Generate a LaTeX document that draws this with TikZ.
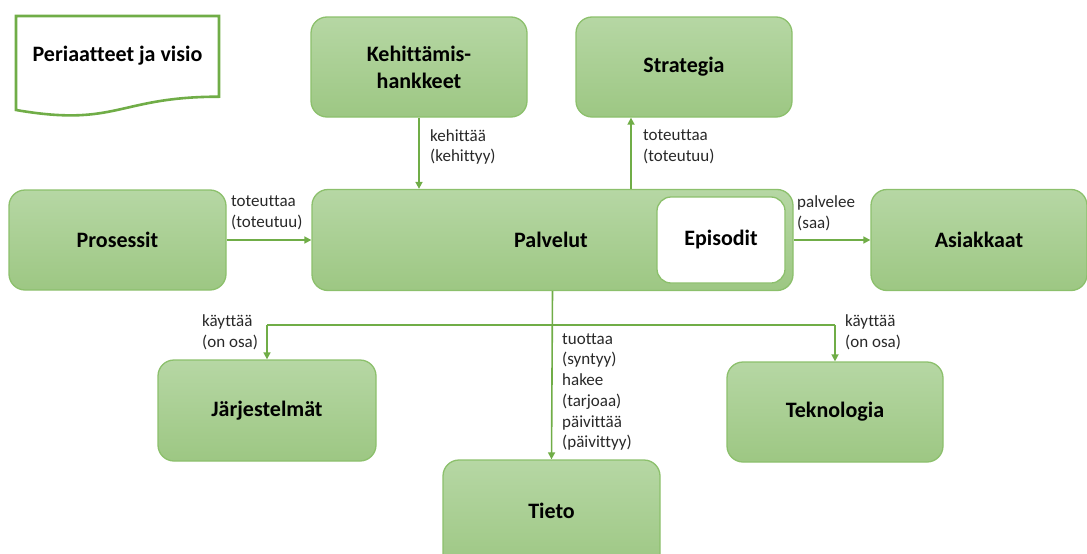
\documentclass[tikz,border=0pt]{standalone}
\usepackage{fontspec}
\setmainfont[Ligatures={NoCommon}]{Carlito}
\usetikzlibrary{arrows.meta}
\definecolor{boxtop}{RGB}{182,215,164}
\definecolor{boxbot}{RGB}{157,199,131}
\definecolor{boxedge}{RGB}{140,192,108}
\definecolor{linkgreen}{RGB}{112,173,71}
\definecolor{labelgray}{RGB}{40,40,40}
\tikzset{
  box/.style={draw=boxedge, line width=1.3pt, rounded corners=16pt,
    top color=boxtop, bottom color=boxbot, align=center,
    font=\fontsize{22}{27}\selectfont\bfseries, text=black, inner sep=0pt},
  inbox/.style={draw=boxedge, line width=1.3pt, rounded corners=14pt,
    fill=white, align=center, font=\fontsize{22}{27}\selectfont\bfseries,
    text=black, inner sep=0pt},
  link/.style={draw=linkgreen, line width=1.6pt},
  arr/.style={link, -{Triangle[width=7pt,length=7pt]}},
  lbl/.style={anchor=west, align=left, inner sep=0pt, text=labelgray,
    font=\fontsize{17}{20.7}\selectfont},
}
\begin{document}
\begin{tikzpicture}[x=1pt, y=-1pt]
\useasboundingbox (0,0) rectangle (1087,554);
\clip (0,0) rectangle (1087,554);

% document shape with a wavy lower edge
\draw[draw=linkgreen, line width=2.6pt, fill=white]
  (16,16) -- (219,16) -- (219,96.7)
  .. controls (117.5,96.7) and (117.5,127.5) .. (16,110) -- cycle;
\node[font=\fontsize{22}{27}\selectfont\bfseries, text=black] (doc) at (117.5,56) {Periaatteet ja visio};

% boxes
\node[box, minimum width=216, minimum height=100] (keh) at (419,67) {Kehittämis-\\hankkeet};
\node[box, minimum width=216, minimum height=100] (str) at (684,67) {Strategia};
\node[box, minimum width=217, minimum height=100] (pro) at (117.5,240) {Prosessit};
\node[box, minimum width=481, minimum height=101] (pal) at (552.5,240) {};
\node[font=\fontsize{22}{27}\selectfont\bfseries, text=black] (paltxt) at (551,240) {Palvelut};
\node[inbox, minimum width=128, minimum height=86] (epi) at (721,240) {Episodit};
\node[box, minimum width=216, minimum height=101] (asi) at (979,240) {Asiakkaat};
\node[box, minimum width=218, minimum height=101] (jar) at (267,410.5) {Järjestelmät};
\node[box, minimum width=217, minimum height=110] (tie) at (551.5,515) {};
\node[font=\fontsize{22}{27}\selectfont\bfseries, text=black] (tietxt) at (551.5,511) {Tieto};
\node[box, minimum width=216, minimum height=100] (tek) at (835,412) {Teknologia};

% connectors
\coordinate (sa) at (631,0);
\coordinate (bus) at (551,325);
\draw[arr] (keh.south) -- (pal.north -| keh.south);
\draw[arr] (pal.north -| sa) -- (str.south -| sa);
\draw[arr] (pro.east) -- (pal.west);
\draw[arr] (pal.east) -- (asi.west);
\draw[arr] (pal.south) -- (tie.north);
\draw[link] (jar.north |- bus) -- (tek.north |- bus);
\draw[arr] (jar.north |- bus) -- (jar.north);
\draw[arr] (tek.north |- bus) -- (tek.north);

% connector labels
\node[lbl] (l1) at (430,147) {kehittää\\(kehittyy)};
\node[lbl] (l2) at (643,147) {toteuttaa\\(toteutuu)};
\node[lbl] (l3) at (231,213) {toteuttaa\\(toteutuu)};
\node[lbl] (l4) at (797,213) {palvelee\\(saa)};
\node[lbl] (l5) at (202,332) {käyttää\\(on osa)};
\node[lbl] (l6) at (845,332) {käyttää\\(on osa)};
\node[lbl] (l7) at (562,392) {tuottaa\\(syntyy)\\hakee\\(tarjoaa)\\päivittää\\(päivittyy)};
\end{tikzpicture}
\end{document}
